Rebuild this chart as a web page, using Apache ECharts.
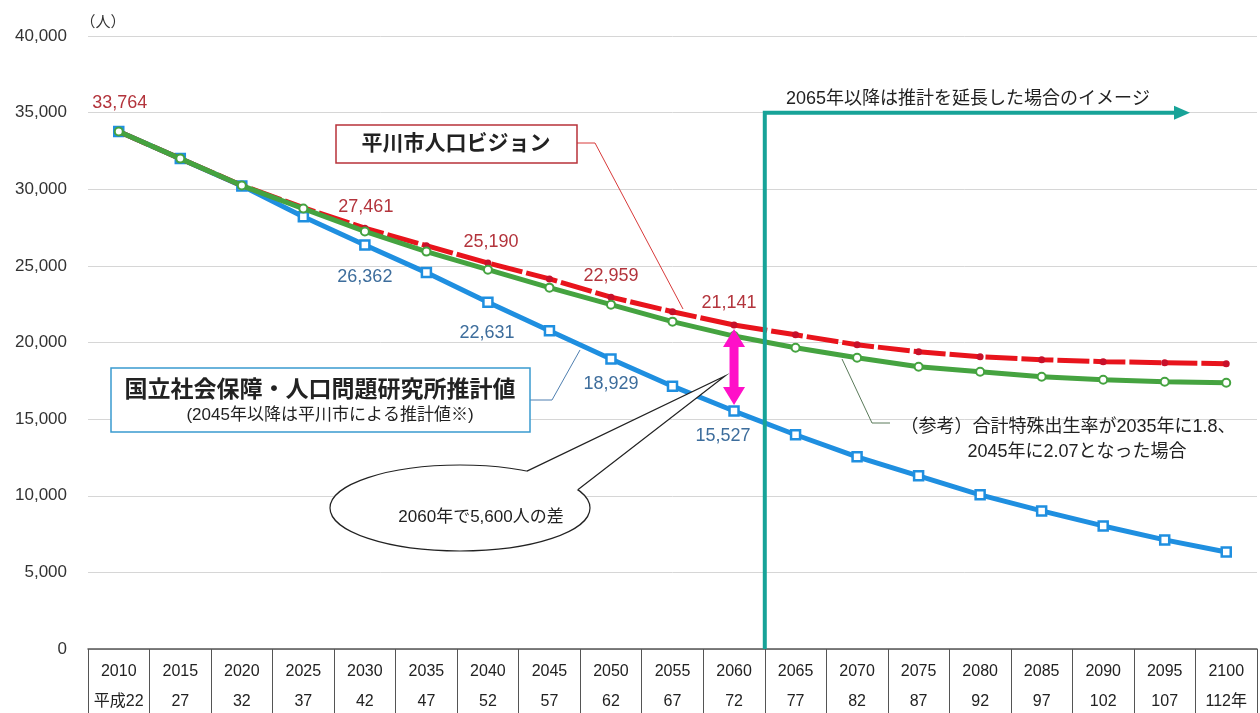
<!DOCTYPE html>
<html><head><meta charset="utf-8">
<script src="https://cdn.jsdelivr.net/npm/echarts@6/dist/echarts.min.js"></script>
<style>html,body{margin:0;padding:0;background:#fff}#c{width:1260px;height:713px}</style>
</head><body><div id="c"></div>
<script>
// ---- data ----
const years = ['2010','2015','2020','2025','2030','2035','2040','2045','2050','2055','2060','2065','2070','2075','2080','2085','2090','2095','2100'];
const eras  = ['平成22','27','32','37','42','47','52','57','62','67','72','77','82','87','92','97','102','107','112年'];
const vision    = [33764,32000,30250,28800,27461,26320,25190,24150,22959,22010,21141,20500,19850,19400,19070,18880,18750,18680,18620];
const ipss      = [33764,32000,30220,28210,26362,24560,22631,20770,18929,17150,15527,13980,12540,11300,10060,9010,8030,7120,6330];
const reference = [33764,32000,30240,28740,27250,25930,24750,23580,22470,21360,20420,19660,19010,18420,18090,17770,17570,17440,17370];
const yMin = 0, yMax = 40000, yStep = 5000;

const FONT = "'Liberation Sans','Noto Sans CJK JP',sans-serif";
const fmt = v => String(v).replace(/\B(?=(\d{3})+(?!\d))/g, ',');

// label offsets (center of label relative to point), keyed by index
const visionLabelOffsets = {0:[1,-29],4:[1,-21],6:[3,-21],8:[0,-21],10:[-5,-22]};
const ipssLabelOffsets   = {4:[0,32],6:[-1,31],8:[0,25],10:[-11,25]};

function buildData(values, offsets, color){
  return values.map((v,i)=> offsets[i] ? {value:v, label:{show:true, position:'inside', offset:offsets[i], color:color, fontSize:18, fontFamily:FONT, formatter: p=>fmt(p.value)}} : v);
}

const chart = echarts.init(document.getElementById('c'), null, {renderer:'canvas'});
chart.setOption({
  animation:false,
  backgroundColor:'#fff',
  grid:{left:88, right:3, top:36, bottom:64, containLabel:false, outerBoundsMode:'none'},
  xAxis:{
    type:'category', data:years, boundaryGap:true,
    axisLine:{show:true, lineStyle:{color:'#555', width:1.5}},
    axisTick:{show:true, interval:0, length:66, lineStyle:{color:'#555', width:1}},
    axisLabel:{interval:0, margin:8, fontSize:16, lineHeight:30, color:'#222', fontFamily:FONT,
      formatter:(v,i)=> v + '\n' + eras[i]},
    splitLine:{show:false}
  },
  yAxis:{
    type:'value', min:yMin, max:yMax, interval:yStep,
    axisLine:{show:false}, axisTick:{show:false},
    axisLabel:{margin:21, fontSize:17, color:'#333', fontFamily:FONT, formatter:v=>fmt(v)},
    splitLine:{lineStyle:{color:'#d6d6d6', width:1}}
  },
  series:[
    {name:'国立社会保障・人口問題研究所推計値', type:'line', z:2, data:buildData(ipss, ipssLabelOffsets, '#3d6d9c'),
     symbol:'rect', symbolSize:9, showAllSymbol:true,
     lineStyle:{color:'#1f8fe0', width:5},
     itemStyle:{color:'#fff', borderColor:'#1f8fe0', borderWidth:2.5}},
    {name:'平川市人口ビジョン', type:'line', z:3, data:buildData(vision, visionLabelOffsets, '#b3343c'),
     symbol:'circle', symbolSize:7, showAllSymbol:true,
     lineStyle:{color:'#e8141c', width:5, type:[32,4]},
     itemStyle:{color:'#c8102a'}},
    {name:'参考', type:'line', z:4, data:reference,
     symbol:'circle', symbolSize:8, showAllSymbol:true,
     lineStyle:{color:'#45a340', width:5},
     itemStyle:{color:'#fff', borderColor:'#45a340', borderWidth:2}}
  ]
});

// ---- annotations positioned through the chart's scales ----
const px = (i, v) => chart.convertToPixel({xAxisIndex:0, yAxisIndex:0}, [i, v]);
const p2060r = px(10, vision[10]);
const p2060b = px(10, ipss[10]);
const p2065 = px(11, 0);
const xb = (p2060r[0] + p2065[0]) / 2;       // boundary between 2060 and 2065
const y35 = px(0, 35000)[1];
const y0 = px(0, 0)[1];

// magenta double arrow
const ax = p2060r[0], aTop = p2060r[1] + 4, aBot = p2060b[1] - 6, hw = 11, sw = 4.5, hl = 18;
const arrowPts = [[ax,aTop],[ax+hw,aTop+hl],[ax+sw,aTop+hl],[ax+sw,aBot-hl],[ax+hw,aBot-hl],[ax,aBot],[ax-hw,aBot-hl],[ax-sw,aBot-hl],[ax-sw,aTop+hl],[ax-hw,aTop+hl]];

// callout ellipse
const ec = [460,508], erx = 130, ery = 43;
const onE = deg => [ec[0] + erx*Math.cos(deg*Math.PI/180), ec[1] - ery*Math.sin(deg*Math.PI/180)];
const b1 = onE(59), b2 = onE(25), tip = [725,376];

const Z = 100;
chart.setOption({graphic:[
  {type:'text', z:Z, x:103, y:23, style:{text:'（人）', fill:'#333', font:'15px ' + FONT, textAlign:'center', textVerticalAlign:'middle'}},
  // 平川市人口ビジョン box
  {type:'polyline', z:Z, shape:{points:[[577,143],[595,143],[683,309]]}, style:{stroke:'#d83a3a', lineWidth:1, fill:null}},
  {type:'rect', z:Z, shape:{x:336, y:125, width:241, height:38}, style:{fill:'#fff', stroke:'#b8323a', lineWidth:1.5}},
  {type:'text', z:Z+1, x:456, y:144, style:{text:'平川市人口ビジョン', fill:'#222', font:'bold 21px ' + FONT, textAlign:'center', textVerticalAlign:'middle'}},
  // IPSS box
  {type:'polyline', z:Z, shape:{points:[[530,400],[552,400],[580,350]]}, style:{stroke:'#4f7fb0', lineWidth:1, fill:null}},
  {type:'rect', z:Z, shape:{x:111, y:368, width:419, height:64}, style:{fill:'#fff', stroke:'#3a9bd0', lineWidth:1.5}},
  {type:'text', z:Z+1, x:320, y:391, style:{text:'国立社会保障・人口問題研究所推計値', fill:'#222', font:'bold 23px ' + FONT, textAlign:'center', textVerticalAlign:'middle'}},
  {type:'text', z:Z+1, x:330, y:415, style:{text:'(2045年以降は平川市による推計値※)', fill:'#222', font:'17px ' + FONT, textAlign:'center', textVerticalAlign:'middle'}},
  // callout
  {type:'ellipse', z:Z, shape:{cx:ec[0], cy:ec[1], rx:erx, ry:ery}, style:{fill:'#fff', stroke:'#222', lineWidth:1.2}},
  {type:'polygon', z:Z+1, shape:{points:[tip, b1, [ec[0]+60, ec[1]-10], b2]}, style:{fill:'#fff', stroke:null}},
  {type:'polyline', z:Z+2, shape:{points:[b1, tip, b2]}, style:{stroke:'#222', lineWidth:1.2, fill:null}},
  {type:'text', z:Z+3, x:481, y:517, style:{text:'2060年で5,600人の差', fill:'#222', font:'17px ' + FONT, textAlign:'center', textVerticalAlign:'middle'}},
  // magenta arrow
  {type:'polygon', z:Z+5, shape:{points:arrowPts}, style:{fill:'#ff10c8'}},
  // teal extension line
  {type:'polyline', z:Z+4, shape:{points:[[xb, y0],[xb, y35],[1176, y35]]}, style:{stroke:'#17a398', lineWidth:4, fill:null}},
  {type:'polygon', z:Z+4, shape:{points:[[1174, y35-7],[1190, y35],[1174, y35+7]]}, style:{fill:'#17a398'}},
  {type:'text', z:Z, x:968, y:99, style:{text:'2065年以降は推計を延長した場合のイメージ', fill:'#222', font:'18px ' + FONT, textAlign:'center', textVerticalAlign:'middle'}},
  // reference note
  {type:'polyline', z:Z, shape:{points:[[842,359],[872,423],[890,423]]}, style:{stroke:'#5a7a5a', lineWidth:1, fill:null}},
  {type:'text', z:Z, x:1068, y:427, style:{text:'（参考）合計特殊出生率が2035年に1.8、', fill:'#222', font:'18px ' + FONT, textAlign:'center', textVerticalAlign:'middle'}},
  {type:'text', z:Z, x:1077, y:452, style:{text:'2045年に2.07となった場合', fill:'#222', font:'18px ' + FONT, textAlign:'center', textVerticalAlign:'middle'}}
]});
</script>
</body></html>
